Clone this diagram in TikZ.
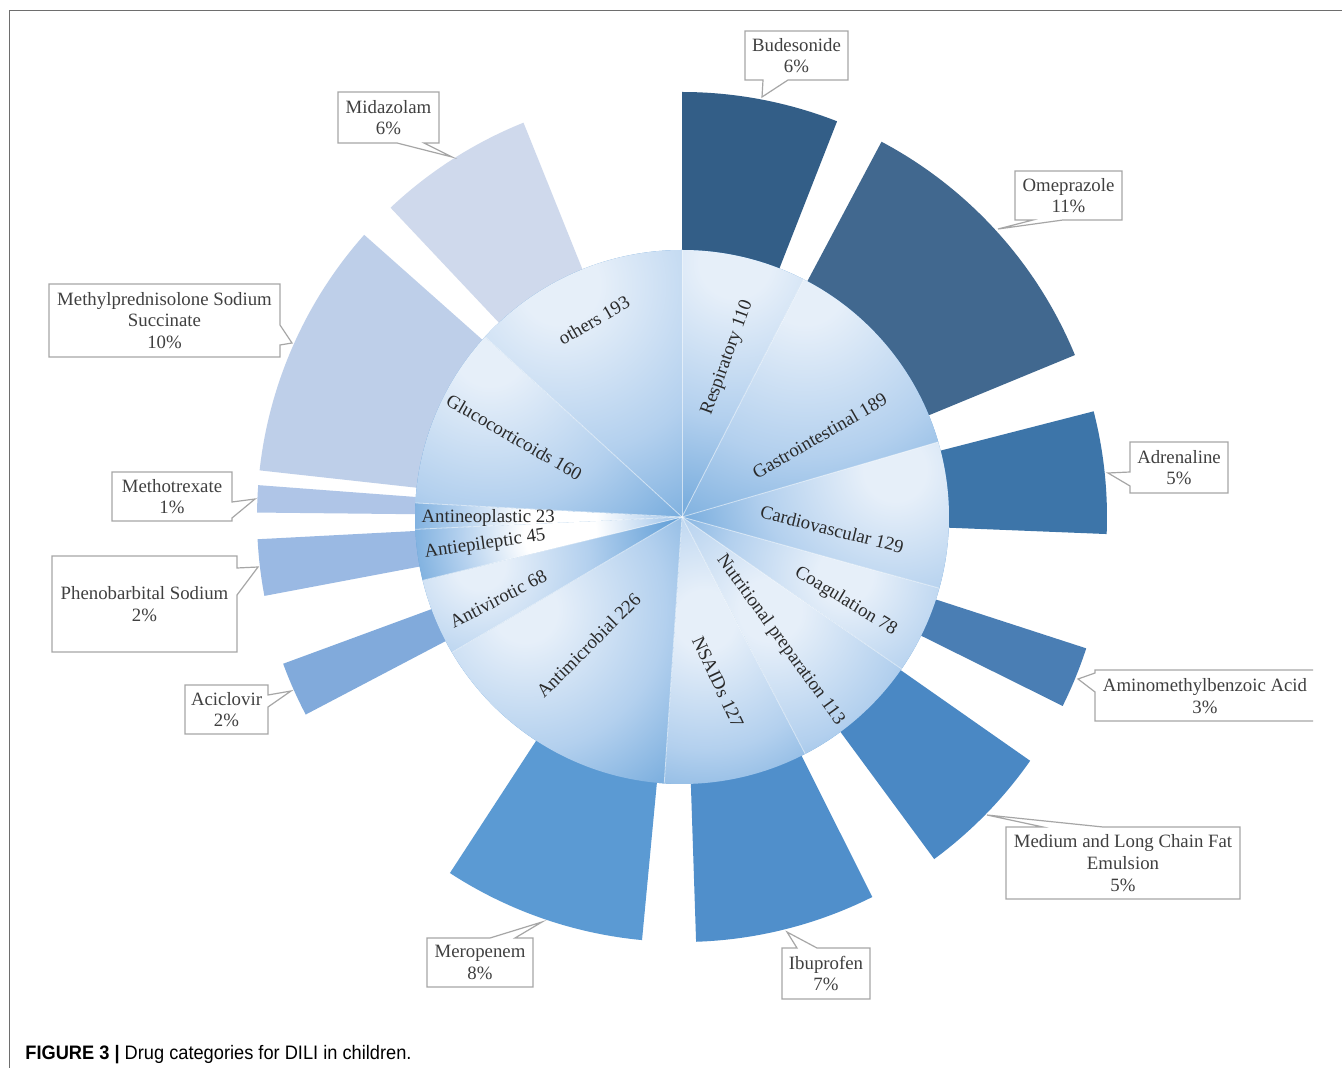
\documentclass[tikz,border=0pt]{standalone}
\usepackage{fontspec}
\setmainfont{Liberation Serif}
\newfontfamily\capfont{Liberation Sans}

\definecolor{pieLt}{HTML}{E6EFF9}
\definecolor{pieMd}{HTML}{B3D0EE}
\definecolor{pieDk}{HTML}{5B9BD5}
\definecolor{pieWh}{HTML}{FFFFFF}
\definecolor{budC}{HTML}{335E87}
\definecolor{omeC}{HTML}{41688F}
\definecolor{adrC}{HTML}{3D75A9}
\definecolor{amiC}{HTML}{4A7EB4}
\definecolor{medC}{HTML}{4A88C4}
\definecolor{ibuC}{HTML}{508FCB}
\definecolor{merC}{HTML}{5B9AD3}
\definecolor{aciC}{HTML}{81AADB}
\definecolor{pheC}{HTML}{9AB9E3}
\definecolor{metC}{HTML}{AFC5E7}
\definecolor{mpC}{HTML}{BECFE9}
\definecolor{midC}{HTML}{CFD9EC}
\definecolor{boxC}{HTML}{A6A6A6}
\definecolor{txtC}{HTML}{404040}
\definecolor{pieTxt}{HTML}{2A2A2A}
\definecolor{frameC}{HTML}{6E6E6E}

% TikZ maps the path's bounding box to the central 50bp square: 25bp = circle edge
\pgfdeclareradialshading{pieglow}{\pgfpoint{0bp}{0bp}}{color(0bp)=(pieLt); color(3bp)=(pieLt); color(13bp)=(pieMd); color(25bp)=(pieDk); color(50bp)=(pieDk)}
\pgfdeclareradialshading{pieglowW}{\pgfpoint{0bp}{0bp}}{color(0bp)=(pieWh); color(5bp)=(pieWh); color(14bp)=(pieMd); color(25bp)=(pieDk); color(50bp)=(pieDk)}

\newcommand{\pieslice}[6]{%
  \begin{scope}
    \clip (0,0) -- (#1:267) arc[start angle=#1, end angle=#2, radius=267] -- cycle;
    \fill[pieDk] (-280,-280) rectangle (280,280);
    \shade[shading=#6] (#3,#4) circle (#5);
  \end{scope}}

\begin{document}
\begin{tikzpicture}[x=0.5pt,y=-0.5pt,
  clab/.style={align=center, text=txtC, font=\fontsize{9.4}{10.85}\selectfont, inner sep=0pt},
  plab/.style={text=pieTxt, font=\fontsize{9.4}{11}\selectfont, inner sep=0pt},
  cbox/.style={fill=white, draw=boxC, line width=0.6pt, line join=miter},
  sepline/.style={draw=white, line width=0.4pt, opacity=0.6}]
\useasboundingbox (0,0) rectangle (1342,1068);
\fill[white] (0,0) rectangle (1342,1068);
\draw[frameC, line width=0.7pt] (1342,10.5) -- (9.5,10.5) -- (9.5,1068);

\begin{scope}[shift={(682,517)}, yscale=-1]
  % outer drug bars
  \fill[budC] (0,0) -- (90:425) arc[start angle=90, end angle=68.6, radius=425] -- cycle;
  \fill[omeC] (0,0) -- (62.0:425) arc[start angle=62.0, end angle=22.4, radius=425] -- cycle;
  \fill[adrC] (0,0) -- (14.4:425) arc[start angle=14.4, end angle=-2.3, radius=425] -- cycle;
  \fill[amiC] (0,0) -- (-18.0:425) arc[start angle=-18.0, end angle=-26.4, radius=425] -- cycle;
  \fill[medC] (0,0) -- (-35.0:425) arc[start angle=-35.0, end angle=-53.6, radius=425] -- cycle;
  \fill[ibuC] (0,0) -- (-63.4:425) arc[start angle=-63.4, end angle=-88.1, radius=425] -- cycle;
  \fill[merC] (0,0) -- (-95.4:425) arc[start angle=-95.4, end angle=-123.1, radius=425] -- cycle;
  \fill[aciC] (0,0) -- (-152.3:425) arc[start angle=-152.3, end angle=-159.8, radius=425] -- cycle;
  \fill[pheC] (0,0) -- (-169.3:425) arc[start angle=-169.3, end angle=-177.0, radius=425] -- cycle;
  \fill[metC] (0,0) -- (-180.6:425) arc[start angle=-180.6, end angle=-184.3, radius=425] -- cycle;
  \fill[mpC] (0,0) -- (-186.3:425) arc[start angle=-186.3, end angle=-221.6, radius=425] -- cycle;
  \fill[midC] (0,0) -- (-226.7:425) arc[start angle=-226.7, end angle=-248.1, radius=425] -- cycle;
  % inner pie of categories
  \pieslice{90}{62.896}{53}{255}{300}{pieglow}
  \pieslice{62.896}{16.325}{123}{232}{330}{pieglow}
  \pieslice{16.325}{-15.461}{213}{47}{260}{pieglow}
  \pieslice{-15.461}{-34.681}{163}{-58}{230}{pieglow}
  \pieslice{-34.681}{-62.525}{88}{-93}{260}{pieglow}
  \pieslice{-62.525}{-93.819}{23}{-103}{250}{pieglow}
  \pieslice{-93.819}{-149.507}{-157}{-93}{270}{pieglow}
  \pieslice{-149.507}{-166.263}{-202}{-48}{210}{pieglow}
  \pieslice{-166.263}{-177.351}{-122}{-16}{180}{pieglowW}
  \pieslice{-177.351}{-183.018}{-122}{0}{180}{pieglowW}
  \pieslice{-183.018}{-222.443}{-192}{167}{300}{pieglow}
  \pieslice{-222.443}{-270}{-122}{232}{330}{pieglow}
  \foreach \a in {90,62.896,16.325,-15.461,-34.681,-62.525,-93.819,-149.507,-166.263,-177.351,-183.018,-222.443}
    \draw[sepline] (0,0) -- (\a:267);
\end{scope}

% category labels
\node[plab, rotate=30] (others) at (593.9,320.4) {others 193};
\node[plab, rotate=70] (resp) at (727.5,357.9) {Respiratory 110};
\node[plab, rotate=30] (gastro) at (819.6,435.7) {Gastrointestinal 189};
\node[plab, rotate=-30] (gluco) at (514.3,437.1) {Glucocorticoids 160};
\node[plab, rotate=-14] (cardio) at (832.1,529.3) {Cardiovascular 129};
\node[plab, rotate=-31] (coag) at (845.7,601.4) {Coagulation 78};
\node[plab, rotate=-54] (nutri) at (780.4,640) {Nutritional preparation 113};
\node[plab, rotate=-65] (nsaid) at (717.9,681.8) {NSAIDs 127};
\node[plab, rotate=45] (antimic) at (588.6,645.4) {Antimicrobial 226};
\node[plab, rotate=27] (antivir) at (498.2,598.9) {Antivirotic 68};
\node[plab, rotate=8] (antiepi) at (485,544.3) {Antiepileptic 45};
\node[plab] (antineo) at (488.2,517.9) {Antineoplastic 23};

% callouts
\draw[cbox] (745,31) -- (848,31) -- (848,80) -- (788,80) -- (762,97) -- (763,80) -- (745,80) -- cycle;
\node[clab] (budesonide) at (796.5,55.5) {Budesonide\\6\%};

\draw[cbox] (1015,171) -- (1122,171) -- (1122,220) -- (1063,220) -- (998,229) -- (1033,220) -- (1015,220) -- cycle;
\node[clab] (omeprazole) at (1068.5,195.5) {Omeprazole\\11\%};

\draw[cbox] (1130,442) -- (1228,442) -- (1228,493) -- (1130,493) -- (1130,486) -- (1108,473) -- (1130,472) -- cycle;
\node[clab] (adrenaline) at (1179,467.5) {Adrenaline\\5\%};

\fill[white] (1313,670) -- (1095,670) -- (1095,673) -- (1078,679) -- (1095,692) -- (1095,721) -- (1313,721) -- cycle;
\draw[boxC, line width=0.6pt] (1313,670) -- (1095,670) -- (1095,673) -- (1078,679) -- (1095,692) -- (1095,721) -- (1313,721);
\node[clab] (amino) at (1205,696) {Aminomethylbenzoic Acid\\3\%};

\draw[cbox] (1006,827) -- (1043,827) -- (987,815) -- (1103,827) -- (1240,827) -- (1240,899) -- (1006,899) -- cycle;
\node[clab] (emulsion) at (1123,863) {Medium and Long Chain Fat\\Emulsion\\5\%};

\draw[cbox] (782,948) -- (797,948) -- (787,932) -- (817,948) -- (870,948) -- (870,999) -- (782,999) -- cycle;
\node[clab] (ibuprofen) at (826,973.5) {Ibuprofen\\7\%};

\draw[cbox] (427,938) -- (490,938) -- (542,922) -- (515,938) -- (533,938) -- (533,987) -- (427,987) -- cycle;
\node[clab] (meropenem) at (480,962.5) {Meropenem\\8\%};

\draw[cbox] (185,685) -- (268,685) -- (268,695) -- (291,691) -- (268,707) -- (268,734) -- (185,734) -- cycle;
\node[clab] (aciclovir) at (226.5,709.5) {Aciclovir\\2\%};

\draw[cbox] (52,556) -- (237,556) -- (237,568) -- (258,567) -- (237,595) -- (237,652) -- (52,652) -- cycle;
\node[clab] (phenobarbital) at (144.5,604) {Phenobarbital Sodium\\2\%};

\draw[cbox] (112,472) -- (232,472) -- (232,502) -- (255,499) -- (232,518) -- (232,521) -- (112,521) -- cycle;
\node[clab] (methotrexate) at (172,496.5) {Methotrexate\\1\%};

\draw[cbox] (49,284) -- (280,284) -- (280,325) -- (292,343) -- (280,345) -- (280,357) -- (49,357) -- cycle;
\node[clab] (methylpred) at (164.5,320.5) {Methylprednisolone Sodium\\Succinate\\10\%};

\draw[cbox] (338,92) -- (439,92) -- (439,143) -- (424,143) -- (452,157) -- (397,143) -- (338,143) -- cycle;
\node[clab] (midazolam) at (388.5,117.5) {Midazolam\\6\%};

% caption
\node[anchor=base west, inner sep=0pt, text=black] (caption) at (25,1059)
  {\capfont\fontsize{9.75}{11.5}\selectfont\scalebox{0.935}[1]{\textbf{FIGURE 3 |} Drug categories for DILI in children.}};
\end{tikzpicture}
\end{document}
